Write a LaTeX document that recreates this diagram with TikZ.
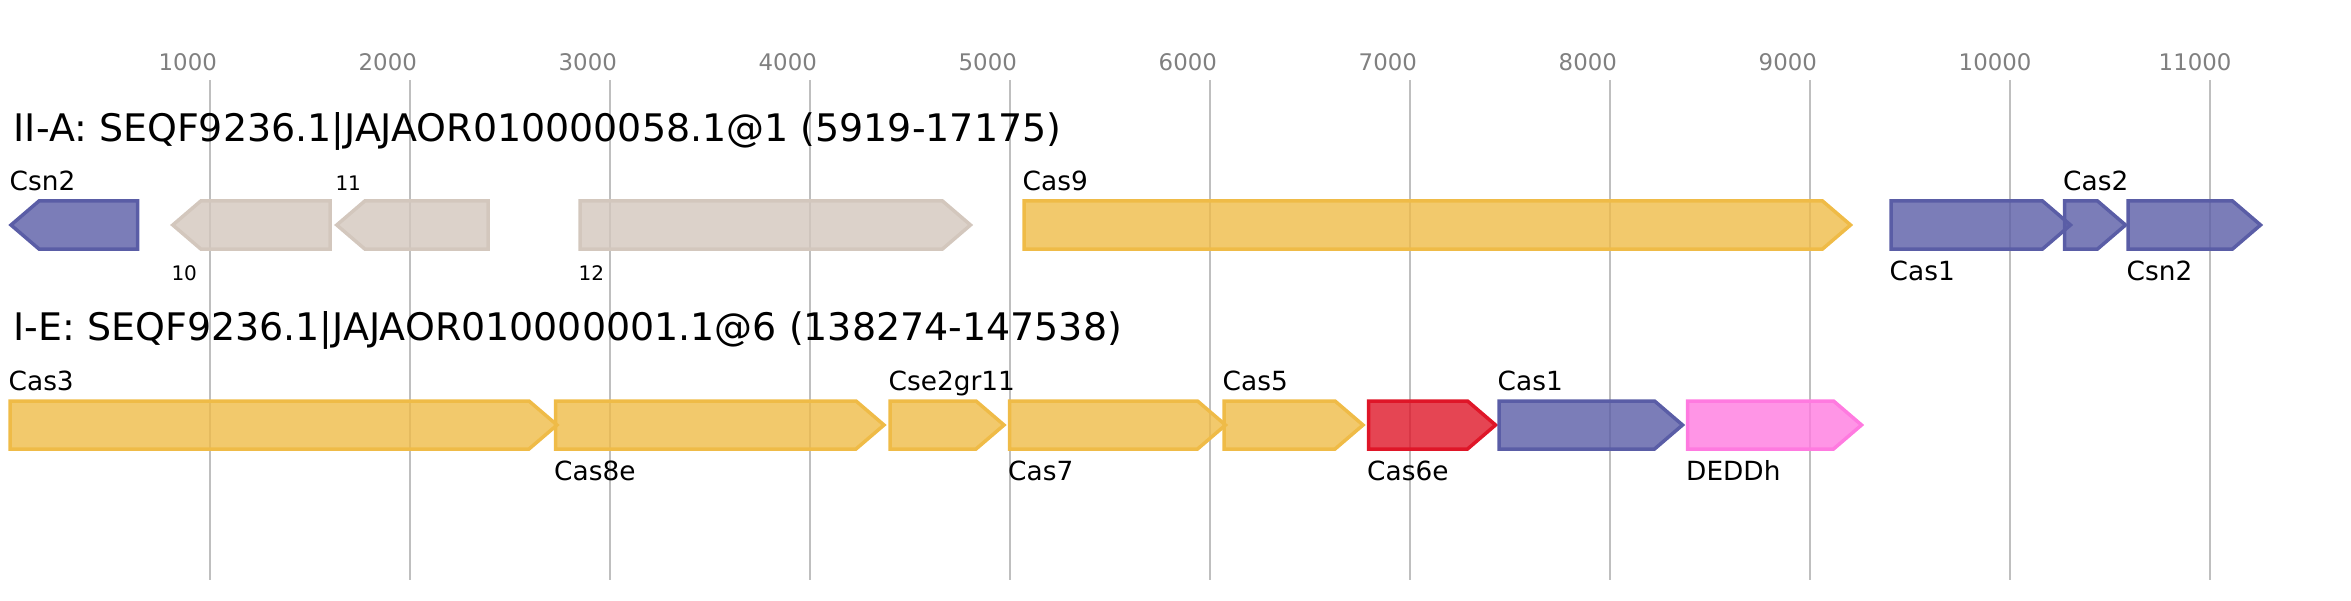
\documentclass[tikz,border=0pt]{standalone}
\usepackage{fontspec}
\setmainfont{DejaVu Sans}
\usepackage{tikz}
\usetikzlibrary{positioning}
\definecolor{adaptcol}{HTML}{5A5DA6}
\definecolor{effcol}{HTML}{EFBB47}
\definecolor{hypocol}{HTML}{D3C7BD}
\definecolor{cassixcol}{HTML}{DF1628}
\definecolor{dedcol}{HTML}{FF7AE0}
\definecolor{gridcol}{HTML}{BFBFBF}
\definecolor{tickcol}{HTML}{808080}
\tikzstyle{gene} = [line width=0.35mm, fill opacity=0.8, line join=miter]
\tikzstyle{adapt} = [gene, draw=adaptcol, fill=adaptcol]
\tikzstyle{effector} = [gene, draw=effcol, fill=effcol]
\tikzstyle{hypo} = [gene, draw=hypocol, fill=hypocol]
\tikzstyle{cassix} = [gene, draw=cassixcol, fill=cassixcol]
\tikzstyle{ancillary} = [gene, draw=dedcol, fill=dedcol]
\tikzstyle{vline} = [draw=gridcol, line width=0.2mm]
\tikzstyle{tick} = [text=tickcol, font=\fontsize{6.5}{8}\selectfont, anchor=base west, inner sep=0]
\tikzstyle{title} = [font=\fontsize{10.8}{13}\selectfont, anchor=base west, inner sep=0]
\tikzstyle{lab} = [font=\fontsize{7.5}{9}\selectfont, anchor=base west, inner sep=0]
\tikzstyle{num} = [font=\fontsize{5.7}{7}\selectfont, anchor=base west, inner sep=0]
% genes: left, right, middle y, style
\newcommand{\fwdgene}[4]{\draw[#4] (#1,#3-24) -- (#2-28,#3-24) -- (#2,#3) -- (#2-28,#3+24) -- (#1,#3+24) -- cycle;}
\newcommand{\revgene}[4]{\draw[#4] (#1,#3) -- (#1+28,#3-24) -- (#2,#3-24) -- (#2,#3+24) -- (#1+28,#3+24) -- cycle;}

\begin{document}
\begin{tikzpicture}[x=0.1mm, y=-0.1mm]
\useasboundingbox (0,0) rectangle (2351,600);

% Scale
\draw[vline] (210,80) -- (210,580);
\draw[vline] (410,80) -- (410,580);
\draw[vline] (610,80) -- (610,580);
\draw[vline] (810,80) -- (810,580);
\draw[vline] (1010,80) -- (1010,580);
\draw[vline] (1210,80) -- (1210,580);
\draw[vline] (1410,80) -- (1410,580);
\draw[vline] (1610,80) -- (1610,580);
\draw[vline] (1810,80) -- (1810,580);
\draw[vline] (2010,80) -- (2010,580);
\draw[vline] (2210,80) -- (2210,580);
\node[tick] (t1) at (158,71) {1000};
\node[tick] (t2) at (358,71) {2000};
\node[tick] (t3) at (558,71) {3000};
\node[tick] (t4) at (758,71) {4000};
\node[tick] (t5) at (958,71) {5000};
\node[tick] (t6) at (1158,71) {6000};
\node[tick] (t7) at (1358,71) {7000};
\node[tick] (t8) at (1558,71) {8000};
\node[tick] (t9) at (1758,71) {9000};
\node[tick] (t10) at (1958,71) {10000};
\node[tick] (t11) at (2158,71) {11000};

% II-A
\node[title] (iia) at (13,141.6) {II-A: SEQF9236.1|JAJAOR010000058.1@1 (5919-17175)};
\revgene{11}{137.5}{225}{adapt}
\revgene{172.8}{330}{225}{hypo}
\revgene{336.8}{488}{225}{hypo}
\fwdgene{580}{970.5}{225}{hypo}
\fwdgene{1024}{1850.5}{225}{effector}
\fwdgene{1891}{2070.5}{225}{adapt}
\fwdgene{2064.5}{2125.5}{225}{adapt}
\fwdgene{2128}{2260.5}{225}{adapt}
\node[lab] (csnA) at (9,190) {Csn2};
\node[num] (orfB) at (334.8,190) {11};
\node[lab] (casnine) at (1022,190) {Cas9};
\node[lab] (castwo) at (2062.5,190) {Cas2};
\node[num] (orfA) at (170.8,280) {10};
\node[num] (orfC) at (578,280) {12};
\node[lab] (casoneA) at (1889,280) {Cas1};
\node[lab] (csnB) at (2126,280) {Csn2};

% I-E
\node[title] (ie) at (13,340.6) {I-E: SEQF9236.1|JAJAOR010000001.1@6 (138274-147538)};
\fwdgene{10}{557}{425}{effector}
\fwdgene{555.5}{884}{425}{effector}
\fwdgene{890}{1004}{425}{effector}
\fwdgene{1009.5}{1225.5}{425}{effector}
\fwdgene{1224}{1363}{425}{effector}
\fwdgene{1368.5}{1495.5}{425}{cassix}
\fwdgene{1499}{1682.5}{425}{adapt}
\fwdgene{1687.5}{1861.5}{425}{ancillary}
\node[lab] (casthree) at (8,390) {Cas3};
\node[lab] (cse) at (888,390) {Cse2gr11};
\node[lab] (casfive) at (1222,390) {Cas5};
\node[lab] (casoneB) at (1497,390) {Cas1};
\node[lab] (caseight) at (553.5,480) {Cas8e};
\node[lab] (casseven) at (1007.5,480) {Cas7};
\node[lab] (cassixe) at (1366.5,480) {Cas6e};
\node[lab] (deddh) at (1685.5,480) {DEDDh};
\end{tikzpicture}
\end{document}
